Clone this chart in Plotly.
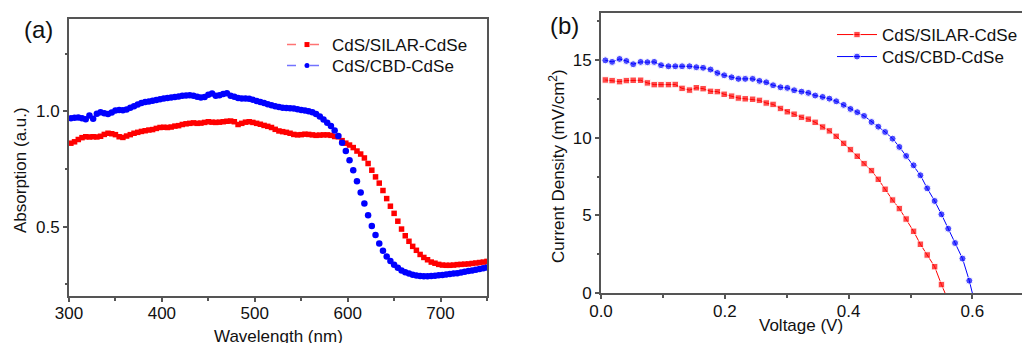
import plotly.graph_objects as go

# ---------------- Panel (a): absorption spectra ----------------
wavelength = [302, 306, 310, 314, 318, 322, 326, 330, 334, 338, 342, 346, 350, 354, 358, 362,
              366, 370, 374, 378, 382, 386, 390, 394, 398, 402, 406, 410, 414, 418, 422, 426,
              430, 434, 438, 442, 446, 450, 454, 458, 462, 466, 470, 474, 478, 482, 486, 490,
              494, 498, 502, 506, 510, 514, 518, 522, 526, 530, 534, 538, 542, 546, 550, 554,
              558, 562, 566, 570, 574, 578, 582, 586, 590, 594, 598, 602, 606, 610, 614, 618,
              622, 626, 630, 634, 638, 642, 646, 650, 654, 658, 662, 666, 670, 674, 678, 682,
              686, 690, 694, 698, 702, 706, 710, 714, 718, 722, 726, 730, 734, 738, 742, 746, 750]

abs_silar = [0.862, 0.868, 0.878, 0.886, 0.890, 0.889, 0.890, 0.889, 0.892, 0.900, 0.905, 0.903,
             0.899, 0.890, 0.887, 0.893, 0.899, 0.905, 0.909, 0.913, 0.916, 0.919, 0.921, 0.926,
             0.930, 0.931, 0.930, 0.932, 0.936, 0.938, 0.943, 0.946, 0.948, 0.950, 0.948, 0.949,
             0.952, 0.955, 0.953, 0.952, 0.953, 0.955, 0.957, 0.958, 0.955, 0.943, 0.948, 0.953,
             0.955, 0.952, 0.948, 0.944, 0.939, 0.935, 0.930, 0.922, 0.915, 0.912, 0.909, 0.905,
             0.900, 0.898, 0.899, 0.901, 0.900, 0.898, 0.896, 0.897, 0.898, 0.898, 0.896, 0.891,
             0.890, 0.873, 0.862, 0.854, 0.843, 0.828, 0.815, 0.798, 0.774, 0.745, 0.716, 0.689,
             0.657, 0.622, 0.589, 0.558, 0.524, 0.490, 0.461, 0.437, 0.415, 0.398, 0.380, 0.367,
             0.357, 0.347, 0.342, 0.337, 0.334, 0.333, 0.333, 0.334, 0.336, 0.337, 0.338, 0.339,
             0.341, 0.343, 0.345, 0.347, 0.350]

abs_cbd = [0.970, 0.972, 0.973, 0.970, 0.966, 0.982, 0.968, 0.990, 0.996, 0.992, 0.988, 0.995,
           1.004, 1.006, 1.005, 1.008, 1.015, 1.022, 1.030, 1.036, 1.040, 1.043, 1.046, 1.049,
           1.052, 1.056, 1.058, 1.060, 1.062, 1.064, 1.067, 1.069, 1.070, 1.068, 1.063, 1.060,
           1.062, 1.072, 1.077, 1.068, 1.070, 1.075, 1.078, 1.068, 1.063, 1.058, 1.056, 1.056,
           1.055, 1.050, 1.045, 1.040, 1.036, 1.031, 1.026, 1.022, 1.019, 1.016, 1.014, 1.013,
           1.012, 1.009, 1.006, 1.004, 1.000, 0.996, 0.988, 0.978, 0.965, 0.951, 0.936, 0.917,
           0.893, 0.864, 0.828, 0.788, 0.745, 0.697, 0.648, 0.601, 0.550, 0.503, 0.464, 0.427,
           0.396, 0.371, 0.352, 0.335, 0.322, 0.311, 0.303, 0.297, 0.292, 0.289, 0.287, 0.286,
           0.286, 0.287, 0.288, 0.290, 0.291, 0.293, 0.295, 0.297, 0.299, 0.302, 0.305, 0.308,
           0.311, 0.314, 0.317, 0.320, 0.323]

# ---------------- Panel (b): J-V curves ----------------
voltage = [0.007, 0.018, 0.030, 0.041, 0.052, 0.064, 0.075, 0.086, 0.097, 0.109, 0.120, 0.131,
           0.143, 0.154, 0.165, 0.177, 0.188, 0.199, 0.211, 0.222, 0.233, 0.245, 0.256, 0.267,
           0.278, 0.290, 0.301, 0.312, 0.324, 0.335, 0.346, 0.358, 0.369, 0.380, 0.392, 0.403,
           0.414, 0.425, 0.437, 0.448, 0.459, 0.471, 0.482, 0.493, 0.505, 0.516, 0.527, 0.539,
           0.550, 0.561, 0.572, 0.584, 0.595]
voc_silar = 0.556
voc_cbd = 0.600

j_silar = [13.70, 13.66, 13.59, 13.66, 13.68, 13.68, 13.51, 13.40, 13.40, 13.40, 13.41, 13.16,
           13.05, 13.20, 13.14, 12.97, 12.95, 12.78, 12.66, 12.54, 12.49, 12.46, 12.39, 12.22,
           12.13, 11.87, 11.66, 11.50, 11.30, 11.18, 10.98, 10.68, 10.43, 10.08, 9.63, 9.23,
           8.80, 8.33, 7.88, 7.32, 6.68, 5.99, 5.44, 4.77, 3.98, 3.15, 2.46, 1.71, 0.56]

j_cbd = [14.96, 14.86, 15.05, 14.92, 14.71, 14.86, 14.84, 14.86, 14.65, 14.58,
         14.58, 14.58, 14.58, 14.52, 14.48, 14.37, 14.15, 14.00, 13.87, 13.77,
         13.77, 13.77, 13.64, 13.55, 13.36, 13.23, 13.19, 13.04, 12.95, 12.87,
         12.70, 12.61, 12.50, 12.33, 12.10, 11.84, 11.63, 11.39, 11.00, 10.70,
         10.36, 9.93, 9.40, 8.82, 8.22, 7.58, 6.74, 5.93, 5.07, 4.15,
         3.23, 2.23, 0.81]

names = ["CdS/SILAR-CdSe", "CdS/CBD-CdSe"]
RED = "#ff0000"
BLUE = "#0000ff"
FONT = "Liberation Sans, Arial, sans-serif"
TXT = "#111111"
AX = "#555555"

W, H = 1022, 343


def px_x(p):
    return p / W


def px_y(p):
    return (H - p) / H


fig = go.Figure()

# Panel (a) data
fig.add_trace(go.Scatter(x=wavelength, y=abs_silar, mode="markers", showlegend=False,
                         marker=dict(symbol="square", size=5.5, color=RED),
                         xaxis="x", yaxis="y"))
fig.add_trace(go.Scatter(x=wavelength, y=abs_cbd, mode="markers", showlegend=False,
                         marker=dict(symbol="circle", size=6.5, color=BLUE),
                         xaxis="x", yaxis="y"))
# Panel (a) legend entries (each in its own legend box)
fig.add_trace(go.Scatter(x=[None], y=[None], mode="lines+markers", name=names[0],
                         line=dict(color="rgba(255,0,0,0.55)", width=1.5, dash="9px,14px"),
                         marker=dict(symbol="square", size=5, color=RED),
                         xaxis="x", yaxis="y", legend="legend"))
fig.add_trace(go.Scatter(x=[None], y=[None], mode="lines+markers", name=names[1],
                         line=dict(color="rgba(0,0,255,0.55)", width=1.5, dash="9px,14px"),
                         marker=dict(symbol="circle", size=5, color=BLUE),
                         xaxis="x", yaxis="y", legend="legend3"))

# Panel (b) data
v_silar = voltage[:len(j_silar)] + [voc_silar]
jj_silar = j_silar + [0.0]
v_cbd = voltage[:len(j_cbd)] + [voc_cbd]
jj_cbd = j_cbd + [0.0]
fig.add_trace(go.Scatter(x=v_silar, y=jj_silar, mode="lines+markers", name=names[0],
                         line=dict(color=RED, width=1),
                         marker=dict(symbol="square", size=[6.5] * len(j_silar) + [0], color=RED),
                         xaxis="x2", yaxis="y2", legend="legend2"))
fig.add_trace(go.Scatter(x=v_cbd, y=jj_cbd, mode="lines+markers", name=names[1],
                         line=dict(color=BLUE, width=1),
                         marker=dict(symbol="circle", size=[7] * len(j_cbd) + [0], color=BLUE),
                         xaxis="x2", yaxis="y2", legend="legend4"))

axis_common = dict(showline=True, linecolor=AX, linewidth=2, ticks="outside",
                   ticklen=4, tickwidth=1.5, tickcolor=AX, showgrid=False,
                   zeroline=False, automargin=False,
                   tickfont=dict(family=FONT, size=17, color=TXT))


def legend_box(left, top, itemwidth):
    return dict(x=px_x(left), y=px_y(top), xanchor="left", yanchor="top",
                bgcolor="rgba(0,0,0,0)", font=dict(family=FONT, size=17, color=TXT),
                itemwidth=itemwidth, tracegroupgap=0)


def label(text, x, y, size=17, angle=0):
    return dict(text=text, x=px_x(x), y=px_y(y), xref="paper", yref="paper",
                xanchor="center", yanchor="middle", showarrow=False, textangle=angle,
                font=dict(family=FONT, size=size, color=TXT))


fig.update_layout(
    width=W, height=H,
    margin=dict(l=0, r=0, t=0, b=0, pad=0, autoexpand=False),
    paper_bgcolor="white", plot_bgcolor="white",
    font=dict(family=FONT, size=17, color=TXT),
    xaxis=dict(domain=[px_x(69), px_x(487)], range=[300, 750], dtick=100, tick0=0,
               mirror=True, anchor="y", ticklabelstandoff=-3,
               minor=dict(dtick=50, tick0=0, ticks="outside", ticklen=2.5, tickcolor=AX),
               **axis_common),
    yaxis=dict(domain=[px_y(296), px_y(19)], range=[0.2, 1.4], dtick=0.5, tick0=0,
               tickformat=".1f", mirror=True, anchor="x",
               minor=dict(dtick=0.25, tick0=0, ticks="outside", ticklen=2.5, tickcolor=AX),
               **axis_common),
    xaxis2=dict(domain=[px_x(601), 1.0], range=[0, (W - 601) / 619.0], dtick=0.2, tick0=0,
                tickformat=".1f", mirror=True, anchor="y2", ticklabelstandoff=-3,
                minor=dict(dtick=0.1, tick0=0, ticks="outside", ticklen=2.5, tickcolor=AX),
                **axis_common),
    yaxis2=dict(domain=[px_y(293.3), px_y(13)], range=[0, 18], dtick=5, tick0=0,
                mirror=False, anchor="x2",
                minor=dict(dtick=2.5, tick0=0, ticks="outside", ticklen=2.5, tickcolor=AX),
                **axis_common),
    legend=legend_box(282, 27, 40),
    legend3=legend_box(282, 48, 40),
    legend2=legend_box(832, 17, 40),
    legend4=legend_box(832, 39, 40),
    annotations=[
        label("(a)", 38, 30, size=24),
        label("(b)", 564, 25, size=24),
        label("Wavelength (nm)", 278, 336),
        label("Absorption (a.u.)", 20, 170, angle=-90),
        label("Voltage (V)", 801, 325),
        label("Current Density (mV/cm<sup>2</sup>)", 557, 166, angle=-90),
    ],
)

fig.write_html("out.html")
